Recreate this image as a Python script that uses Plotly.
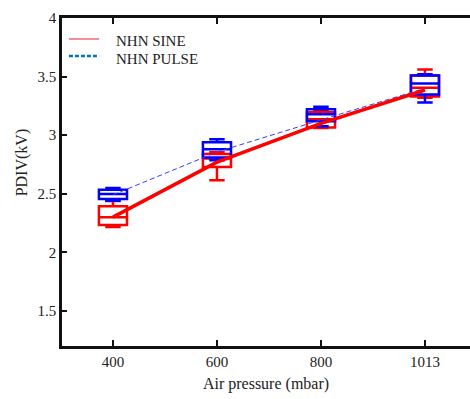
import plotly.graph_objects as go

# Air pressure levels (categories) and tick labels
pressure = ["400", "600", "800", "1013"]

# PDIV statistics (kV) for the pulse source
pulse_lower = [2.44, 2.786, 3.076, 3.278]
pulse_q1 = [2.454, 2.81, 3.118, 3.348]
pulse_median = [2.497, 2.88, 3.178, 3.44]
pulse_q3 = [2.533, 2.94, 3.22, 3.51]
pulse_upper = [2.548, 2.965, 3.242, 3.52]
pulse_mean = [2.49, 2.856, 3.13, 3.40]

# PDIV statistics (kV) for the sine source
sine_lower = [2.215, 2.616, 3.06, 3.32]
sine_q1 = [2.233, 2.727, 3.065, 3.33]
sine_median = [2.30, 2.80, 3.135, 3.405]
sine_q3 = [2.394, 2.84, 3.195, 3.51]
sine_upper = [2.437, 2.854, 3.21, 3.56]
sine_mean = [2.30, 2.77, 3.10, 3.385]

series_names = ["NHN SINE", "NHN PULSE"]

SERIF = "Liberation Serif"
TEXT = "#222222"

fig = go.Figure()

# box plots (sine first, pulse drawn over it)
fig.add_trace(go.Box(
    x=pressure, q1=sine_q1, median=sine_median, q3=sine_q3,
    lowerfence=sine_lower, upperfence=sine_upper,
    width=0.27, whiskerwidth=0.55,
    line=dict(color="#FF0000", width=2.5), fillcolor="rgba(0,0,0,0)",
    showlegend=False, hoverinfo="skip",
))
fig.add_trace(go.Box(
    x=pressure, q1=pulse_q1, median=pulse_median, q3=pulse_q3,
    lowerfence=pulse_lower, upperfence=pulse_upper,
    width=0.27, whiskerwidth=0.55,
    line=dict(color="#0000FF", width=2.5), fillcolor="rgba(0,0,0,0)",
    showlegend=False, hoverinfo="skip",
))

# mean trend lines
fig.add_trace(go.Scatter(
    x=pressure, y=pulse_mean, mode="lines",
    line=dict(color="#3a3aff", width=1, dash="5px,3px"),
    showlegend=False, hoverinfo="skip",
))
fig.add_trace(go.Scatter(
    x=pressure, y=sine_mean, mode="lines",
    line=dict(color="#FF0000", width=3.5),
    showlegend=False, hoverinfo="skip",
))

# compact legend in the upper-left corner: sample lines + labels
legend_rows = [
    dict(y_line=0.936, y_text=0.931, color="#E0202A", width=1, dash="solid"),
    dict(y_line=0.884, y_text=0.876, color="#0072C6", width=2.5, dash="4px,2px"),
]
shapes = []
annotations = []
for name, row in zip(series_names, legend_rows):
    shapes.append(dict(
        type="line", xref="paper", yref="paper",
        x0=0.017, x1=0.091, y0=row["y_line"], y1=row["y_line"],
        line=dict(color=row["color"], width=row["width"], dash=row["dash"]),
    ))
    annotations.append(dict(
        text=name, xref="paper", yref="paper", x=0.1275, y=row["y_text"],
        xanchor="left", yanchor="middle", showarrow=False,
        font=dict(family=SERIF, size=15, color=TEXT),
    ))

# y-axis title
annotations.append(dict(
    text="PDIV(kV)", textangle=-90,
    xref="paper", yref="paper", x=-0.098, y=0.56,
    xanchor="center", yanchor="middle", showarrow=False,
    font=dict(family=SERIF, size=16, color=TEXT),
))

fig.update_layout(
    width=470, height=399,
    margin=dict(l=62, r=0, t=18, b=53),
    paper_bgcolor="white", plot_bgcolor="white",
    boxmode="overlay",
    showlegend=False,
    font=dict(family=SERIF, size=15, color=TEXT),
    xaxis=dict(
        type="category", categoryorder="array", categoryarray=pressure,
        range=[-0.49, 3.433],
        showline=True, linecolor="#111111", linewidth=2.5, mirror="ticks",
        ticks="inside", ticklen=6, tickwidth=2, tickcolor="#111111",
        showgrid=False, zeroline=False,
        tickfont=dict(family=SERIF, size=15, color=TEXT),
        title=dict(text="Air pressure (mbar)", font=dict(family=SERIF, size=16, color=TEXT), standoff=10),
    ),
    yaxis=dict(
        range=[1.2, 4.0],
        tickvals=[1.5, 2, 2.5, 3, 3.5, 4],
        ticktext=["1.5", "2", "2.5", "3", "3.5", "4"],
        showline=True, linecolor="#111111", linewidth=2.5, mirror=False,
        ticks="inside", ticklen=5, tickwidth=2, tickcolor="#111111",
        showgrid=False, zeroline=False,
        tickfont=dict(family=SERIF, size=15, color=TEXT),
    ),
    shapes=shapes,
    annotations=annotations,
)

fig.write_html("out.html")
